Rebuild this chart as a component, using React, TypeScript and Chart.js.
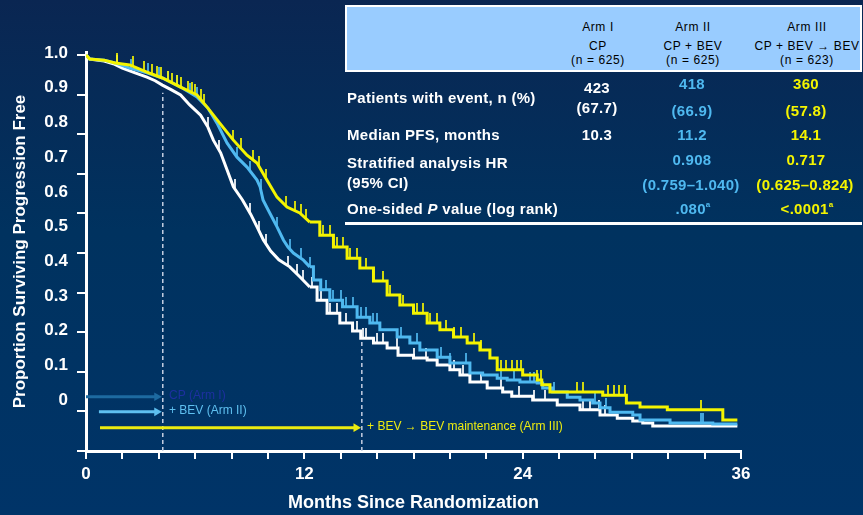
import React, { useEffect, useRef } from 'react';
import { Chart, registerables } from 'chart.js';

Chart.register(...registerables);

type P = [number, number];

// Kaplan-Meier curves: [month, proportion progression-free]
const armICurve: P[] = [
  [0, 1.0], [0.2, 0.99], [1.0, 0.985], [1.5, 0.978], [2.0, 0.967], [2.7, 0.955], [3.35, 0.944],
  [3.8, 0.935], [4.2, 0.924], [4.7, 0.912], [5.2, 0.899], [5.7, 0.874], [6.3, 0.848], [6.7, 0.818],
  [7.0, 0.785], [7.4, 0.753], [7.75, 0.71], [8.1, 0.667], [8.6, 0.634], [9.05, 0.598], [9.4, 0.566],
  [9.75, 0.533], [10.15, 0.505], [10.6, 0.483], [11.2, 0.465], [11.75, 0.44], [12.3, 0.414],
  [12.7, 0.381], [13.25, 0.348], [13.95, 0.323], [14.65, 0.303], [15.1, 0.285], [15.8, 0.273],
  [16.55, 0.26], [17.15, 0.242], [18.0, 0.235], [18.75, 0.23], [19.3, 0.217], [20.0, 0.205],
  [20.55, 0.192], [21.1, 0.174], [22.05, 0.159], [22.9, 0.149], [23.4, 0.138], [24.55, 0.129],
  [25.9, 0.116], [27.15, 0.104], [28.25, 0.091], [29.2, 0.083], [30.05, 0.076], [30.6, 0.071],
  [31.15, 0.063], [35.8, 0.063],
];
const armIICurve: P[] = [
  [0, 1.0], [0.2, 0.99], [1.0, 0.987], [1.6, 0.98], [2.4, 0.967], [3.35, 0.955], [4.2, 0.942],
  [5.2, 0.919], [6.1, 0.894], [6.7, 0.866], [7.2, 0.828], [7.75, 0.778], [8.3, 0.742], [8.85, 0.717],
  [9.4, 0.684], [9.57, 0.667], [9.73, 0.634], [10.1, 0.601], [10.5, 0.566], [10.85, 0.533],
  [11.1, 0.515], [11.4, 0.5], [11.95, 0.482], [12.3, 0.465], [12.5, 0.432], [12.9, 0.407],
  [13.4, 0.381], [14.1, 0.364], [14.9, 0.338], [15.6, 0.323], [16.15, 0.306], [17.1, 0.288],
  [17.8, 0.273], [18.35, 0.255], [19.3, 0.237], [20.0, 0.222], [21.1, 0.197], [21.8, 0.192],
  [22.6, 0.184], [23.15, 0.179], [23.85, 0.174], [24.8, 0.172], [25.1, 0.159], [25.65, 0.149],
  [26.45, 0.136], [27.15, 0.129], [27.85, 0.121], [28.25, 0.109], [28.8, 0.098], [30.05, 0.091],
  [30.45, 0.078], [32.1, 0.071], [34.45, 0.068], [35.8, 0.068],
];
const armIIICurve: P[] = [
  [0, 1.0], [0.2, 0.99], [1.0, 0.987], [1.6, 0.98], [2.4, 0.975], [3.35, 0.957], [4.2, 0.942],
  [5.2, 0.919], [6.1, 0.899], [6.7, 0.866], [7.35, 0.828], [8.1, 0.785], [8.85, 0.747], [9.4, 0.727],
  [9.95, 0.684], [10.5, 0.641], [11.05, 0.616], [11.75, 0.601], [12.3, 0.578], [12.85, 0.545],
  [13.6, 0.515], [14.35, 0.487], [15.05, 0.462], [15.8, 0.429], [16.55, 0.394], [17.25, 0.369],
  [18.0, 0.348], [18.75, 0.323], [19.45, 0.306], [20.2, 0.288], [20.95, 0.273], [21.65, 0.255],
  [22.2, 0.235], [22.6, 0.205], [24.0, 0.192], [24.8, 0.179], [25.05, 0.167], [25.5, 0.149],
  [28.4, 0.141], [29.7, 0.121], [30.45, 0.111], [31.95, 0.104], [35.0, 0.078], [35.8, 0.078],
];

// Censoring times (months)
const armICensor = [1.7, 6.7, 7.3, 8.2, 9.0, 9.5, 9.9, 11.1, 11.6, 11.9, 12.4, 12.9, 13.4, 13.8, 14.3,
  14.9, 15.2, 15.4, 16.0, 16.3, 17.1, 18.0, 18.7, 19.3, 20.2, 20.7, 21.7, 22.8, 23.8, 24.6, 25.2, 27.3,
  27.7, 28.2, 28.5];
const armIICensor = [2.5, 3.4, 4.0, 4.5, 5.0, 5.7, 6.1, 8.3, 9.0, 9.6, 10.5, 11.2, 11.8, 12.3, 13.2, 13.6,
  14.0, 14.3, 14.7, 15.1, 15.4, 15.8, 16.0, 17.3, 18.2, 19.5, 20.0, 20.9, 22.8, 23.5, 24.4, 24.6, 25.7,
  28.0, 28.6, 33.8, 33.9];
const armIIICensor = [1.7, 2.6, 3.2, 3.6, 3.9, 4.1, 4.5, 4.7, 5.0, 5.2, 5.6, 5.8, 6.0, 6.3, 6.5, 8.1, 8.5,
  9.2, 9.5, 9.9, 11.0, 11.5, 11.8, 12.1, 13.0, 13.4, 13.8, 14.1, 14.5, 14.9, 15.4, 15.8, 16.3, 16.7,
  17.4, 18.2, 18.5, 18.9, 19.3, 19.8, 20.2, 20.6, 21.3, 21.7, 22.8, 23.1, 23.4, 23.7, 23.9, 24.8, 25.0,
  27.0, 27.3, 28.7, 29.0, 29.3, 29.6, 33.8];

// Where the fine early steps blur into a line at this resolution
const fineStepUntil = 12.3;

// Axes
const xTickValues = [0, 2, 4, 6, 8, 10, 12, 14, 16, 18, 20, 22, 24, 26, 28, 30, 32, 34, 36];
const xLabelValues = [0, 12, 24, 36];
const yTickValues = [0, 0.1, 0.2, 0.3, 0.4, 0.5, 0.6, 0.7, 0.8, 0.9, 1.0];
const yLabelValues = [1.0, 0.9, 0.8, 0.7, 0.6, 0.5, 0.4, 0.3, 0.2, 0.1, 0];
const yLabelTexts = ['1.0', '0.9', '0.8', '0.7', '0.6', '0.5', '0.4', '0.3', '0.2', '0.1', '0'];

// Treatment phase markers
const phaseEnds = [4.22, 15.16];
const phaseLineTops = [0.905, 0.28];
const arrowLevels = [0.137, 0.099, 0.059];
const arrowStarts = [0, 0.71, 0.77];
const arrowEnds = [3.89, 3.89, 14.84];
const arrowLabels = ['CP (Arm I)', '+ BEV (Arm II)', '+ BEV \u2192 BEV maintenance (Arm III)'];
const arrowLabelStarts = [4.56, 4.56, 15.45];

// Table
const armNames = ['Arm I', 'Arm II', 'Arm III'];
const armRegimens = ['CP', 'CP + BEV', 'CP + BEV \u2192 BEV'];
const armNs = ['(n = 625)', '(n = 625)', '(n = 623)'];
const eventCounts = ['423', '418', '360'];
const eventPcts = ['(67.7)', '(66.9)', '(57.8)'];
const medianPfs = ['10.3', '11.2', '14.1'];
const hazardRatios = ['', '0.908', '0.717'];
const hazardCis = ['', '(0.759\u20131.040)', '(0.625\u20130.824)'];
const pValues = ['', '.080', '<.0001'];

const FONT = "'Liberation Sans', Arial, Helvetica, sans-serif";
const armColors = ['#ffffff', '#4fb9f0', '#f4f400'];
const arrowColors = ['#1d6aa0', '#5ec0f0', '#ecec10'];
const arrowTextColors = ['#1d30a0', '#5ec0f0', '#ecec10'];
const colX = [598, 693, 807];

// y of a censor mark on the drawn curve
function curveValueAt(curve: P[], t: number): number {
  for (let i = 0; i < curve.length - 1; i++) {
    const [x0, y0] = curve[i];
    const [x1, y1] = curve[i + 1];
    if (t >= x0 && t < x1) {
      if (x1 <= fineStepUntil) return y0 + ((y1 - y0) * (t - x0)) / (x1 - x0);
      return y0;
    }
  }
  return curve[curve.length - 1][1];
}

function tickMark(color: string): HTMLCanvasElement {
  const c = document.createElement('canvas');
  c.width = 2;
  c.height = 20;
  const g = c.getContext('2d')!;
  g.globalAlpha = 0.85;
  g.fillStyle = color;
  g.fillRect(0, 0, 2, 10);
  return c;
}

const arrowTextPlugin = {
  id: 'arrowText',
  afterDatasetsDraw(chart: any) {
    const { ctx, scales } = chart;
    const x = scales.x;
    const y = scales.y;
    ctx.save();
    ctx.font = `12px ${FONT}`;
    ctx.textBaseline = 'middle';
    ctx.textAlign = 'left';
    arrowLabels.forEach((t, i) => {
      ctx.fillStyle = arrowTextColors[i];
      ctx.fillText(t, x.getPixelForValue(arrowLabelStarts[i]), y.getPixelForValue(arrowLevels[i]) - 1);
    });
    ctx.restore();
  },
};

function Txt(props: { x: number; y: number; align?: 'left' | 'center'; style?: React.CSSProperties; children: React.ReactNode }) {
  const { x, y, align = 'center', style, children } = props;
  return (
    <div
      style={{
        position: 'absolute',
        left: x,
        top: y,
        transform: align === 'center' ? 'translate(-50%, -50%)' : 'translate(0, -50%)',
        whiteSpace: 'nowrap',
        fontFamily: FONT,
        lineHeight: 1,
        ...style,
      }}
    >
      {children}
    </div>
  );
}

export default function App() {
  const ref = useRef<HTMLCanvasElement | null>(null);

  useEffect(() => {
    if (!ref.current) return;
    const curves = [armICurve, armIICurve, armIIICurve];
    const censors = [armICensor, armIICensor, armIIICensor];
    const datasets: any[] = [];

    phaseEnds.forEach((m, i) => {
      datasets.push({
        data: [{ x: m, y: 0 }, { x: m, y: phaseLineTops[i] }],
        showLine: true,
        borderColor: '#c5cfe2',
        borderWidth: 1.5,
        borderDash: [4, 3],
        pointRadius: 0,
        yAxisID: 'y',
        order: 10,
      });
    });
    arrowLevels.forEach((lv, i) => {
      datasets.push({
        data: [{ x: arrowStarts[i], y: lv }, { x: arrowEnds[i], y: lv }],
        showLine: true,
        borderColor: arrowColors[i],
        borderWidth: 3,
        pointRadius: [0, 5],
        pointStyle: 'triangle',
        rotation: 90,
        pointBackgroundColor: arrowColors[i],
        pointBorderColor: arrowColors[i],
        pointBorderWidth: 0,
        yAxisID: 'y',
        order: 9,
      });
    });
    curves.forEach((c, i) => {
      const early = c.filter(([x]) => x <= fineStepUntil);
      const late = c.filter(([x]) => x >= fineStepUntil);
      datasets.push({
        data: early.map(([x, y]) => ({ x, y })),
        showLine: true,
        stepped: false,
        borderColor: armColors[i],
        borderWidth: 3,
        borderJoinStyle: 'miter',
        pointRadius: 0,
        yAxisID: 'y',
        order: 6 - i * 2,
      });
      datasets.push({
        data: late.map(([x, y]) => ({ x, y })),
        showLine: true,
        stepped: 'before',
        borderColor: armColors[i],
        borderWidth: 3,
        pointRadius: 0,
        yAxisID: 'y',
        order: 6 - i * 2,
      });
      datasets.push({
        data: censors[i].map((t) => ({ x: t, y: curveValueAt(c, t) })),
        showLine: false,
        pointStyle: tickMark(armColors[i]),
        pointRadius: 3,
        yAxisID: 'y',
        order: 5 - i * 2,
      });
    });

    const tickFont = { family: FONT, size: 17, weight: 'bold' as const };

    const chart = new Chart(ref.current, {
      type: 'scatter',
      data: { datasets },
      options: {
        animation: false,
        responsive: false,
        layout: { padding: { left: 0, right: 122, top: 52, bottom: 0 } },
        plugins: { legend: { display: false }, tooltip: { enabled: false }, title: { display: false } },
        scales: {
          x: {
            type: 'linear',
            position: 'bottom',
            min: 0,
            max: 36,
            afterBuildTicks: (a: any) => {
              a.ticks = xTickValues.map((v) => ({ value: v }));
            },
            afterFit: (s: any) => {
              s.height = 64;
            },
            ticks: {
              autoSkip: false,
              maxRotation: 0,
              color: '#ffffff',
              font: tickFont,
              padding: 5,
              callback: (v: any) => (xLabelValues.includes(Number(v)) ? String(v) : ''),
            },
            grid: { drawOnChartArea: false, drawTicks: true, tickLength: 8, color: '#ffffff', lineWidth: 2 },
            border: { display: true, color: '#ffffff', width: 3 },
            title: {
              display: true,
              text: 'Months Since Randomization',
              color: '#ffffff',
              font: { family: FONT, size: 18, weight: 'bold' },
              padding: { top: 0, bottom: 1 },
            },
          },
          y: {
            type: 'linear',
            position: 'left',
            weight: 0,
            min: 0,
            max: 1.0076,
            afterBuildTicks: (a: any) => {
              a.ticks = yTickValues.map((v) => ({ value: v }));
            },
            afterFit: (s: any) => {
              s.width = 9;
            },
            ticks: { display: false },
            grid: { drawOnChartArea: false, drawTicks: true, tickLength: 9, color: '#ffffff', lineWidth: 2 },
            border: { display: true, color: '#ffffff', width: 3 },
          },
          yLab: {
            type: 'linear',
            position: 'left',
            weight: 1,
            min: -0.147,
            max: 1.003,
            afterBuildTicks: (a: any) => {
              a.ticks = yLabelValues.map((v) => ({ value: v }));
            },
            afterFit: (s: any) => {
              s.width = 77;
            },
            ticks: {
              autoSkip: false,
              color: '#ffffff',
              font: tickFont,
              padding: 9,
              callback: (_v: any, i: number) => yLabelTexts[i],
            },
            grid: { display: false, drawTicks: false },
            border: { display: false },
            title: {
              display: true,
              text: 'Proportion Surviving Progression Free',
              color: '#ffffff',
              font: { family: FONT, size: 17, weight: 'bold' },
              padding: { top: 10, bottom: 0 },
            },
          },
        },
      } as any,
      plugins: [arrowTextPlugin],
    });
    return () => chart.destroy();
  }, []);

  const headStyle: React.CSSProperties = { color: '#000', fontSize: 12, letterSpacing: '0.6px' };
  const labelStyle: React.CSSProperties = { color: '#fff', fontSize: 15, fontWeight: 'bold', letterSpacing: '0.3px' };
  const valStyle = (i: number): React.CSSProperties => ({ color: armColors[i], fontSize: 15, fontWeight: 'bold', letterSpacing: '0.3px' });

  return (
    <div
      style={{
        position: 'fixed',
        left: 0,
        top: 0,
        width: 863,
        height: 515,
        overflow: 'hidden',
        background: 'linear-gradient(to bottom, #0a2652 0%, #00325f 45%, #003468 100%)',
      }}
    >
      <canvas ref={ref} width={863} height={515} style={{ position: 'absolute', left: 0, top: 0, display: 'block' }} />
      <div
        style={{
          position: 'absolute',
          left: 345,
          top: 5,
          width: 517,
          height: 67,
          boxSizing: 'border-box',
          background: '#99ccff',
          border: '2px solid #ffffff',
        }}
      />
      {armNames.map((n, i) => (
        <React.Fragment key={n}>
          <Txt x={colX[i]} y={27} style={headStyle}>{n}</Txt>
          <Txt x={colX[i]} y={46} style={headStyle}>{armRegimens[i]}</Txt>
          <Txt x={colX[i]} y={60} style={headStyle}>{armNs[i]}</Txt>
        </React.Fragment>
      ))}
      <Txt x={347} y={97} align="left" style={labelStyle}>Patients with event, n (%)</Txt>
      {eventCounts.map((v, i) => (
        <React.Fragment key={'e' + i}>
          <Txt x={colX[i] - 1} y={i === 0 ? 87 : 83} style={valStyle(i)}>{v}</Txt>
          <Txt x={colX[i] - 1} y={i === 0 ? 107 : 110} style={valStyle(i)}>{eventPcts[i]}</Txt>
        </React.Fragment>
      ))}
      <Txt x={347} y={134} align="left" style={labelStyle}>Median PFS, months</Txt>
      {medianPfs.map((v, i) => (
        <Txt key={'m' + i} x={colX[i] - 1} y={134} style={valStyle(i)}>{v}</Txt>
      ))}
      <Txt x={347} y={162} align="left" style={labelStyle}>Stratified analysis HR</Txt>
      <Txt x={347} y={182} align="left" style={labelStyle}>(95% CI)</Txt>
      {hazardRatios.map((v, i) =>
        v ? (
          <React.Fragment key={'h' + i}>
            <Txt x={colX[i] - 1} y={159} style={valStyle(i)}>{v}</Txt>
            <Txt x={colX[i] - 2} y={184} style={valStyle(i)}>{hazardCis[i]}</Txt>
          </React.Fragment>
        ) : null
      )}
      <Txt x={347} y={208} align="left" style={labelStyle}>
        One-sided <i>P</i> value (log rank)
      </Txt>
      {pValues.map((v, i) =>
        v ? (
          <Txt key={'p' + i} x={colX[i]} y={208} style={valStyle(i)}>
            {v}
            <sup style={{ fontSize: 8, verticalAlign: 'top' }}>a</sup>
          </Txt>
        ) : null
      )}
      <div style={{ position: 'absolute', left: 345, top: 222, width: 517, height: 3, background: '#ffffff' }} />
    </div>
  );
}
